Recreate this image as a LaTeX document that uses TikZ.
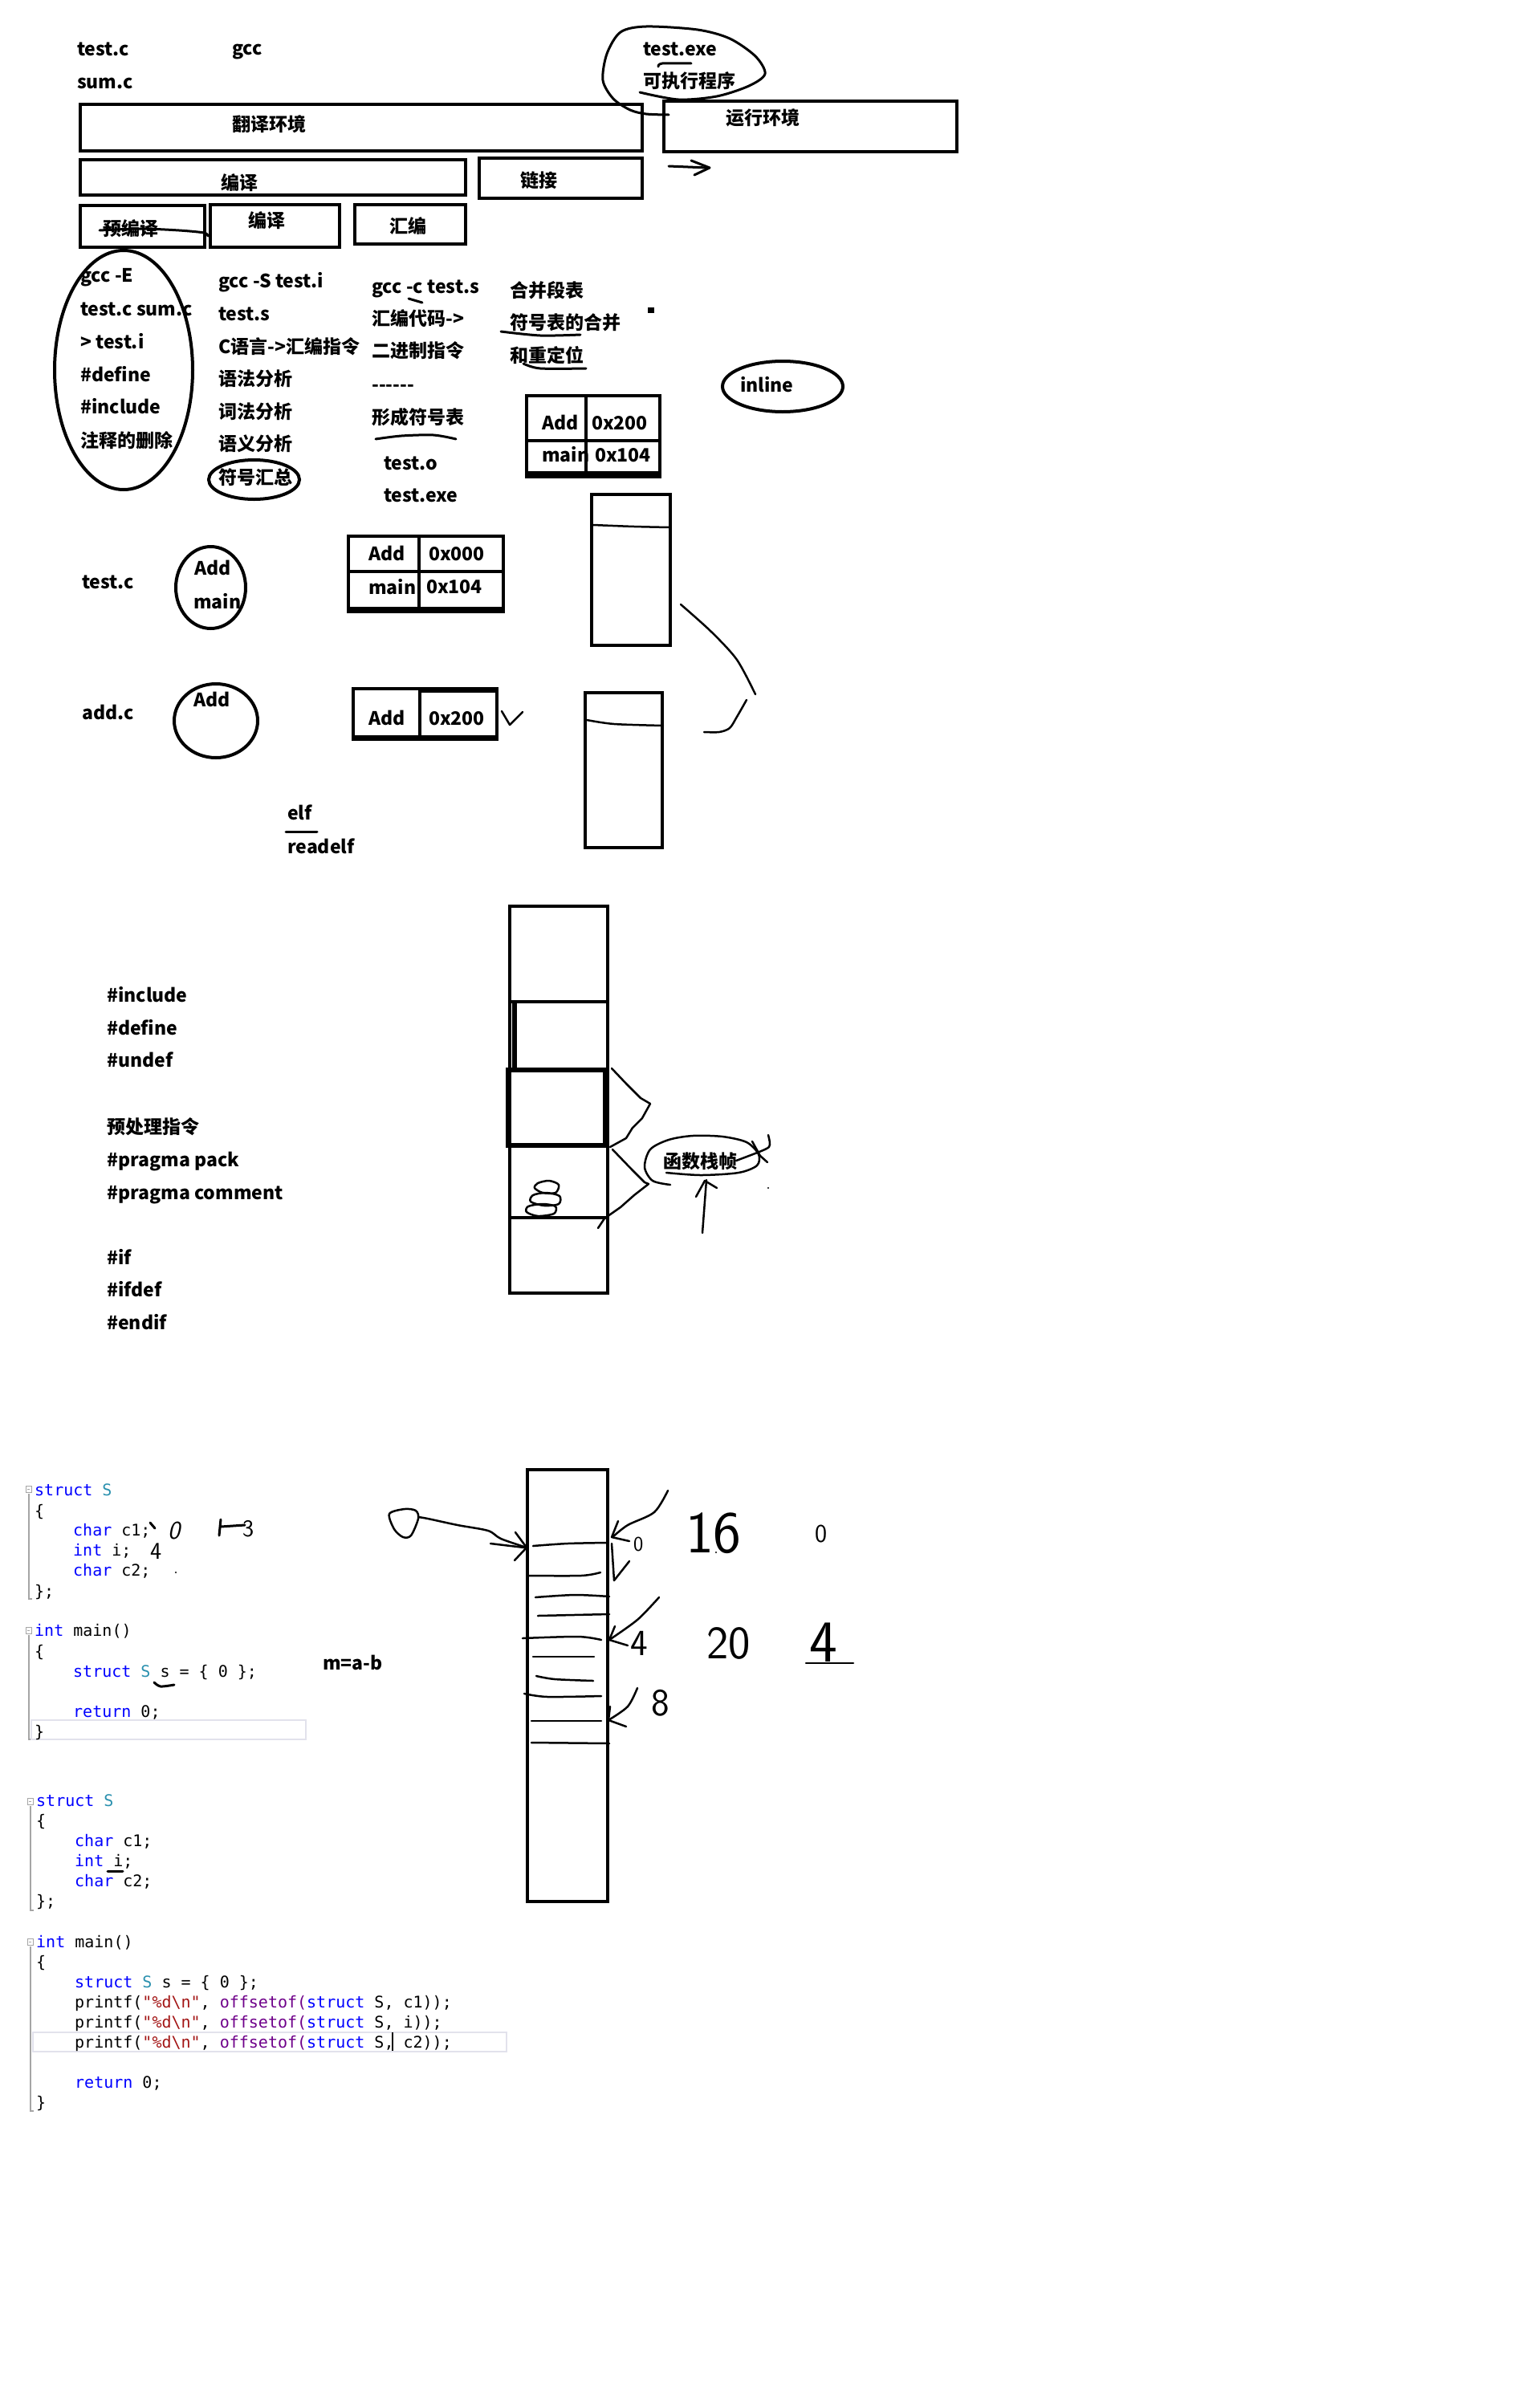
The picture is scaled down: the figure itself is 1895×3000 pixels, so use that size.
\documentclass[tikz,border=0pt]{standalone}
\usepackage{fontspec}
\setmainfont{Noto Sans CJK SC}
\newfontfamily\codefont{DejaVu Sans Mono}
\usetikzlibrary{shapes.geometric}
\definecolor{kw}{RGB}{0,0,255}
\definecolor{ty}{RGB}{43,145,175}
\definecolor{st}{RGB}{163,21,21}
\definecolor{mc}{RGB}{111,0,138}
\definecolor{gut}{RGB}{165,165,165}
\definecolor{hl}{RGB}{226,226,236}
\tikzset{
  tx/.style={font=\bfseries\fontsize{23}{28}\selectfont, anchor=base west, inner sep=0pt},
  cd/.style={font=\codefont\fontsize{20}{24}\selectfont, anchor=base west, inner sep=0pt},
  hw/.style={font=\sffamily\fontsize{#1}{#1}\selectfont, anchor=base west, inner sep=0pt},
  bx/.style={draw, line width=4.5pt, inner sep=0pt, rectangle},
  ov/.style={draw, line width=4pt, ellipse, inner sep=0pt},
  pen/.style={line width=3pt, line cap=round, line join=round},
  fine/.style={line width=2.5pt, line cap=round, line join=round},
}
\begin{document}
\begin{tikzpicture}[x=1pt,y=-1pt]
\useasboundingbox (0,0) rectangle (1895,3000);
\fill[white] (0,0) rectangle (1895,3000);

% ---------------- top section ----------------
\node[tx] (ttestc) at (96,70) {test.c};
\node[tx] (tsumc) at (96,111) {sum.c};
\node[tx] (tgcc) at (289,69) {gcc};
\node[tx] (texe) at (801,70) {test.exe};
\node[tx] (tkzx) at (801,110) {可执行程序};
\draw[pen] plot[smooth] coordinates {(797,115) (845,124) (893,120) (933,107) (953,92) (941,70) (909,48) (869,37) (805,33) (773,40) (756,67) (751,100) (764,123) (785,137) (805,142) (833,143)};
\draw[pen] plot[smooth] coordinates {(820,83) (825,79) (861,79)};

\node[bx, minimum width=700, minimum height=58] (fanyi) at (450,159) {};
\node[tx] (tfanyi) at (289,163) {翻译环境};
\node[bx, minimum width=365, minimum height=63] (yunxing) at (1009.5,157.5) {};
\node[tx] (tyunxing) at (904,156) {运行环境};
\draw[pen] (833,207) -- (881,209);
\draw[pen] (861,200) -- (884,209) -- (865,218);

\node[bx, minimum width=480, minimum height=44] (bianyi) at (340,221) {};
\node[tx] (tbianyi) at (275,236) {编译};
\node[bx, minimum width=203, minimum height=50] (lianjie) at (698.5,222) {};
\node[tx] (tlianjie) at (648,233) {链接};
\node[bx, minimum width=155, minimum height=52] (yubianyi) at (177.5,282) {};
\node[tx] (tyubianyi) at (128,293) {预编译};
\draw[pen] plot[smooth] coordinates {(124,287) (175,285) (223,287) (254,290) (259,294)};
\node[bx, minimum width=161, minimum height=53] (bianyi2) at (342.5,281.5) {};
\node[tx] (tbianyi2) at (309,283) {编译};
\node[bx, minimum width=138, minimum height=49] (huibian) at (511,279.5) {};
\node[tx] (thuibian) at (485,290) {汇编};

% ---------------- second section ----------------
\node[ov, minimum width=172, minimum height=298] (bigov) at (154,461) {};
\node[tx] (a1) at (100,351) {gcc -E};
\node[tx] (a2) at (100,393) {test.c sum.c};
\node[tx] (a3) at (100,434) {> test.i};
\node[tx] (a4) at (100,475) {\#define};
\node[tx] (a5) at (100,515) {\#include};
\node[tx] (a6) at (100,557) {注释的删除};

\node[tx] (b1) at (272,358) {gcc -S test.i};
\node[tx] (b2) at (272,399) {test.s};
\node[tx] (b3) at (272,440) {C语言->汇编指令};
\node[tx] (b4) at (272,480) {语法分析};
\node[tx] (b5) at (272,521) {词法分析};
\node[tx] (b6) at (272,561) {语义分析};
\node[tx] (b7) at (272,603) {符号汇总};
\node[ov, minimum width=113, minimum height=49] (fhov) at (316.5,597.5) {};

\node[tx] (c1) at (463,365) {gcc -c test.s};
\draw[pen] (509,372) -- (526,377);
\node[tx] (c2) at (463,405) {汇编代码->};
\node[tx] (c3) at (463,445) {二进制指令};
\node[tx] (c4) at (463,487) {-{}-{}-{}-{}-{}-};
\node[tx] (c5) at (463,528) {形成符号表};
\draw[pen] plot[smooth] coordinates {(468,547) (500,543) (540,542) (568,547)};
\node[tx] (c6) at (478,585) {test.o};
\node[tx] (c7) at (478,625) {test.exe};

\node[tx] (d1) at (635,370) {合并段表};
\node[tx] (d2) at (635,410) {符号表的合并};
\draw[pen] plot[smooth] coordinates {(624,413) (673,418) (723,417)};
\node[tx] (d3) at (635,451) {和重定位};
\draw[pen] plot[smooth] coordinates {(652,453) (673,459) (730,459)};
\fill (807,383) rectangle (815,390);

\node[ov, minimum width=150, minimum height=63] (inl) at (975,481.5) {};
\node[tx] (tinl) at (922,488) {inline};

% table 1
\node[tx] (t1a) at (675,535) {Add};
\node[tx] (t1b) at (737,535) {0x200};
\node[tx] (t1c) at (675,575) {main};
\node[tx] (t1d) at (741,575) {0x104};
\node[bx, minimum width=166, minimum height=101] (tab1) at (739,543.5) {};
\draw[line width=4.5pt] (730,493) -- (730,594);
\draw[line width=4.5pt] (656,549) -- (822,549);
\draw[line width=8pt] (656,591) -- (822,591);

% ---------------- third section ----------------
\node[tx] (s3testc) at (102,733) {test.c};
\node[ov, minimum width=87, minimum height=102] (ovtest) at (262.5,732) {};
\node[tx] (s3add) at (242,716) {Add};
\node[tx] (s3main) at (241,758) {main};

\node[tx] (t2a) at (459,698) {Add};
\node[tx] (t2b) at (534,698) {0x000};
\node[tx] (t2c) at (459,740) {main};
\node[tx] (t2d) at (531,739) {0x104};
\node[bx, minimum width=193, minimum height=94] (tab2) at (530.5,715) {};
\draw[line width=4.5pt] (522,668) -- (522,762);
\draw[line width=4.5pt] (434,712) -- (627,712);
\draw[line width=7pt] (434,759) -- (627,759);

\node[tx] (s3addc) at (102,896) {add.c};
\node[ov, minimum width=104, minimum height=92] (ovadd) at (269,898) {};
\node[tx] (s3add2) at (241,880) {Add};

\node[tx] (t3a) at (459,903) {Add};
\node[tx] (t3b) at (534,903) {0x200};
\node[bx, minimum width=179, minimum height=63] (tab3) at (529.5,889.5) {};
\draw[line width=4.5pt] (523,858) -- (523,921);
\draw[line width=7pt] (523,859) -- (619,859);
\draw[line width=7pt] (440,919) -- (619,919);
\draw[fine] (625,886) -- (635,903) -- (651,887);

\node[bx, minimum width=98, minimum height=188] (stk1) at (786,710) {};
\draw[fine] plot[smooth] coordinates {(739,654) (790,656) (834,657)};
\node[bx, minimum width=96, minimum height=193] (stk2) at (777,959.5) {};
\draw[fine] plot[smooth] coordinates {(731,897) (765,902) (826,904)};
\draw[fine] plot[smooth] coordinates {(848,753) (886,787) (918,822) (941,865)};
\draw[fine] plot[smooth] coordinates {(930,872) (918,893) (909,907) (896,912) (877,912)};

\node[tx] (telf) at (358,1021) {elf};
\draw[pen] (356,1036) -- (395,1036);
\node[tx] (treadelf) at (358,1063) {readelf};

% ---------------- fourth section ----------------
\node[tx] (p1) at (133,1248) {\#include};
\node[tx] (p2) at (133,1289) {\#define};
\node[tx] (p3) at (133,1329) {\#undef};
\node[tx] (p4) at (133,1412) {预处理指令};
\node[tx] (p5) at (133,1453) {\#pragma pack};
\node[tx] (p6) at (133,1494) {\#pragma comment};
\node[tx] (p7) at (133,1575) {\#if};
\node[tx] (p8) at (133,1615) {\#ifdef};
\node[tx] (p9) at (133,1656) {\#endif};

\node[bx, minimum width=122, minimum height=482] (stack) at (696,1370) {};
\draw[line width=4.5pt] (635,1248) -- (757,1248);
\draw[line width=4.5pt] (635,1517) -- (757,1517);
\draw[line width=6pt] (641,1248) -- (641,1334);
\node[draw, line width=6pt, minimum width=121, minimum height=94, inner sep=0pt] (frame) at (693.5,1380) {};
% scribble
\draw[fine] plot[smooth cycle] coordinates {(670,1474) (684,1471) (696,1476) (692,1486) (676,1486) (666,1480)};
\draw[fine] plot[smooth cycle] coordinates {(664,1489) (680,1486) (697,1490) (696,1500) (678,1502) (661,1497)};
\draw[fine] plot[smooth cycle] coordinates {(658,1503) (676,1500) (692,1503) (690,1512) (670,1515) (656,1510)};
% braces
\draw[fine] (762,1331) -- (780,1350) -- (798,1368) -- (810,1375) -- (800,1393) -- (788,1405) -- (780,1418) -- (760,1429);
\draw[fine] (763,1432) -- (787,1457) -- (803,1473) -- (808,1475) -- (790,1489) -- (773,1504) -- (753,1518) -- (745,1530);
% 函数栈帧 loop
\draw[fine] plot[smooth] coordinates {(835,1476) (813,1471) (803,1454) (810,1432) (833,1420) (863,1415) (900,1416) (930,1423) (945,1438) (943,1452) (920,1461) (873,1464) (830,1461)};
\node[tx] (hszz) at (826,1455) {函数栈帧};
\draw[fine] plot[smooth] coordinates {(957,1414) (959,1426) (953,1432) (917,1446)};
\draw[fine] (937,1422) -- (947,1440) -- (956,1448);
\draw[fine] (875,1536) -- (880,1470);
\draw[fine] (867,1491) -- (878,1471) -- (893,1480);
\fill (957,1480) circle (1.2);

% ---------------- code block 1 ----------------
\draw[gut, line width=1pt] (32,1851) rectangle (39,1859);
\draw[gut, line width=1pt] (34,1855) -- (37,1855);
\draw[gut, line width=1.5pt] (36,1861) -- (36,1992) -- (40,1992);
\draw[gut, line width=1pt] (32,2027) rectangle (39,2035);
\draw[gut, line width=1pt] (34,2031) -- (37,2031);
\draw[gut, line width=1.5pt] (36,2037) -- (36,2167) -- (40,2167);
\draw[hl, line width=2pt] (39,2143) rectangle (381,2167);
\node[cd] (k1) at (43,1863) {{\color{kw}struct} {\color{ty}S}};
\node[cd] (k2) at (43,1889) {\{};
\node[cd] (k3) at (91,1913) {{\color{kw}char} c1;};
\node[cd] (k4) at (91,1938) {{\color{kw}int} i;};
\node[cd] (k5) at (91,1963) {{\color{kw}char} c2;};
\node[cd] (k6) at (43,1989) {\};};
\node[cd] (k7) at (43,2038) {{\color{kw}int} main()};
\node[cd] (k8) at (43,2064) {\{};
\node[cd] (k9) at (91,2089) {{\color{kw}struct} {\color{ty}S} s = \{ 0 \};};
\node[cd] (k10) at (91,2139) {{\color{kw}return} 0;};
\node[cd] (k11) at (43,2164) {\}};
% annotations
\draw[pen] (187,1897) -- (193,1904);
\node[hw=30, font=\sffamily\itshape\fontsize{32}{32}\selectfont] (n0) at (209,1917) {0};
\node[hw=30] (n4) at (187,1942) {4};
\draw[pen] (275,1893) -- (273,1913);
\draw[pen] (275,1902) -- (305,1900);
\node[hw=30] (n3) at (302,1914) {3};
\fill (219,1959) circle (1.2);
\draw[pen] plot[smooth] coordinates {(192,2096) (200,2101) (217,2099)};
\node[tx] (mab) at (402,2080) {m=a-b};

% ---------------- memory diagram ----------------
\node[bx, minimum width=100, minimum height=538] (mem) at (707,2100) {};
\draw[fine] plot[smooth] coordinates {(664,1926) (707,1923) (757,1922)};
\draw[fine] plot[smooth] coordinates {(657,1963) (724,1963) (748,1959)};
\draw[fine] plot[smooth] coordinates {(667,1990) (716,1987) (759,1989)};
\draw[fine] (670,2013) -- (759,2011);
\draw[fine] plot[smooth] coordinates {(651,2041) (720,2039) (749,2043)};
\draw[fine] (664,2064) -- (740,2064);
\draw[fine] plot[smooth] coordinates {(668,2088) (691,2092) (739,2094)};
\draw[fine] plot[smooth] coordinates {(653,2110) (682,2114) (749,2113)};
\draw[fine] (662,2144) -- (749,2144);
\draw[fine] (662,2171) -- (759,2172);
% blob and arrow from left
\draw[fine] plot[smooth cycle] coordinates {(485,1886) (504,1880) (518,1882) (521,1892) (512,1913) (502,1915) (491,1905)};
\coordinate (memin) at (656,1928);
\draw[fine] plot[smooth] coordinates {(521,1890) (533,1892) (570,1900) (608,1907) (624,1917) (memin)};
\draw[fine] (642,1909) -- (memin) -- (641,1944);
\draw[fine] (611,1923) -- (653,1928);
% right arrows
\draw[fine] plot[smooth] coordinates {(832,1857) (815,1884) (782,1900) (763,1915)};
\draw[fine] (770,1895) -- (762,1915) -- (784,1920);
\draw[fine] (762,1923) -- (765,1969);
\draw[fine] (784,1945) -- (765,1969);
\node[hw=26] (m0) at (789,1932) {0};
\draw[fine] plot[smooth] coordinates {(821,1990) (794,2018) (759,2043)};
\draw[fine] (766,2026) -- (759,2043) -- (782,2050);
\node[hw=46] (m4) at (785,2062) {4};
\draw[fine] plot[smooth] coordinates {(794,2103) (782,2126) (758,2143)};
\draw[fine] (760,2126) -- (758,2143) -- (780,2151);
\node[hw=48] (m8) at (811,2137) {8};
\node[hw=74] (m16) at (854,1934) {16};
\fill (892,1934) circle (1.2);
\node[hw=32] (m0b) at (1015,1921) {0};
\node[hw=58] (m20) at (880,2066) {20};
\node[hw=74] (m4b) at (1008,2070) {4};
\draw[fine] (1004,2072) -- (1063,2072);

% ---------------- code block 2 ----------------
\draw[gut, line width=1pt] (34,2240) rectangle (41,2248);
\draw[gut, line width=1pt] (36,2244) -- (39,2244);
\draw[gut, line width=1.5pt] (38,2250) -- (38,2380) -- (42,2380);
\draw[gut, line width=1pt] (34,2415) rectangle (41,2423);
\draw[gut, line width=1pt] (36,2419) -- (39,2419);
\draw[gut, line width=1.5pt] (38,2425) -- (38,2630) -- (42,2630);
\draw[hl, line width=2pt] (41,2532) rectangle (631,2556);
\node[cd] (q1) at (45,2250) {{\color{kw}struct} {\color{ty}S}};
\node[cd] (q2) at (45,2275) {\{};
\node[cd] (q3) at (93,2300) {{\color{kw}char} c1;};
\node[cd] (q4) at (93,2325) {{\color{kw}int} i;};
\draw[pen] (134,2331) -- (153,2331);
\node[cd] (q5) at (93,2350) {{\color{kw}char} c2;};
\node[cd] (q6) at (45,2375) {\};};
\node[cd] (q7) at (45,2426) {{\color{kw}int} main()};
\node[cd] (q8) at (45,2451) {\{};
\node[cd] (q9) at (93,2476) {{\color{kw}struct} {\color{ty}S} s = \{ 0 \};};
\node[cd] (q10) at (93,2501) {printf({\color{st}"\%d\textbackslash n"}, {\color{mc}offsetof(}{\color{kw}struct} S, c1));};
\node[cd] (q11) at (93,2526) {printf({\color{st}"\%d\textbackslash n"}, {\color{mc}offsetof(}{\color{kw}struct} S, i));};
\node[cd] (q12) at (93,2551) {printf({\color{st}"\%d\textbackslash n"}, {\color{mc}offsetof(}{\color{kw}struct} S, c2));};
\draw[line width=1.5pt] (489,2532) -- (489,2555);
\node[cd] (q13) at (93,2601) {{\color{kw}return} 0;};
\node[cd] (q14) at (45,2626) {\}};
\end{tikzpicture}
\end{document}
